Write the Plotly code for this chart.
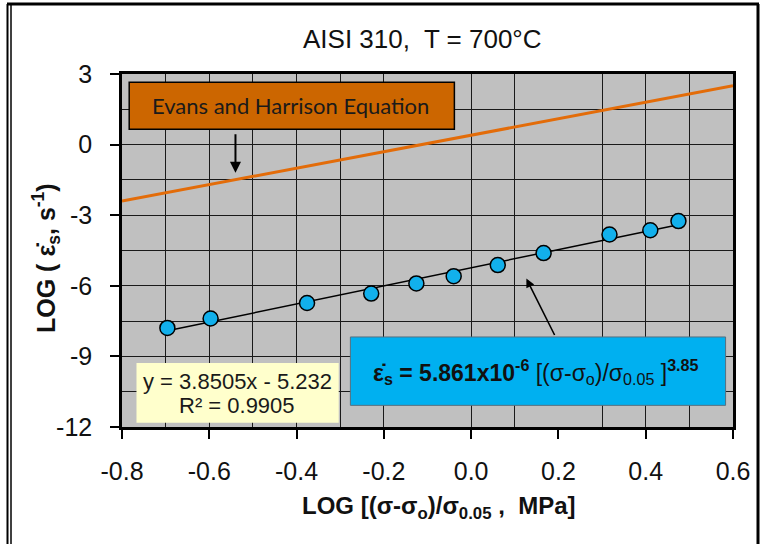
import plotly.graph_objects as go

# ---- data ----
log_stress = [-0.696, -0.597, -0.376, -0.229, -0.1255, -0.04, 0.061, 0.166, 0.317, 0.4105, 0.475]
log_rate = [-7.79, -7.39, -6.73, -6.33, -5.90, -5.59, -5.12, -4.61, -3.82, -3.64, -3.25]
fit_slope = 3.8505
fit_intercept = -5.232
fit_r2 = 0.9905
evans_x = [-0.8, 0.6]
evans_y = [-2.40, 2.50]
x_ticks = [-0.8, -0.6, -0.4, -0.2, 0.0, 0.2, 0.4, 0.6]
x_tick_text = ["-0.8", "-0.6", "-0.4", "-0.2", "0.0", "0.2", "0.4", "0.6"]
x_grid = [-0.7, -0.6, -0.5, -0.4, -0.3, -0.2, 0.0, 0.1, 0.3, 0.4, 0.5]
y_ticks = [3, 0, -3, -6, -9, -12]
y_tick_text = ["3", "0", "-3", "-6", "-9", "-12"]

# ---- layout geometry (pixels) ----
W, H = 768, 544
L, R, T, B = 122, 35, 74, 117
PW, PH = W - L - R, H - T - B


def px(xp):
    return (xp - L) / PW


def py(yp):
    return (H - B - yp) / PH


fit_x = [min(log_stress), max(log_stress)]
fit_y = [fit_slope * v + fit_intercept for v in fit_x]

fig = go.Figure()
fig.add_trace(go.Scatter(x=evans_x, y=evans_y, mode="lines",
                         line=dict(color="#E36C09", width=3), showlegend=False))
fig.add_trace(go.Scatter(x=fit_x, y=fit_y, mode="lines",
                         line=dict(color="black", width=1.5), showlegend=False))
fig.add_trace(go.Scatter(x=log_stress, y=log_rate, mode="markers",
                         marker=dict(size=15, color="#12B0EC",
                                     line=dict(color="black", width=1.5)),
                         showlegend=False))

tick_font = dict(family="Arial, Liberation Sans", size=25, color="#111")

fig.update_xaxes(range=[-0.8, 0.6], tickmode="array", tickvals=x_ticks, ticktext=x_tick_text,
                 showgrid=False, zeroline=False, ticks="outside", ticklen=9, tickwidth=1.5,
                 tickcolor="black", tickfont=tick_font, ticklabelstandoff=11,
                 showline=True, linecolor="black", linewidth=2.5, mirror=True,
                 minor=dict(tickmode="array", tickvals=x_grid, showgrid=True,
                            gridcolor="#1a1a1a", gridwidth=1.3, ticks=""))
fig.update_yaxes(range=[-12, 3], tickmode="array", tickvals=y_ticks, ticktext=y_tick_text,
                 showgrid=True, gridcolor="#1a1a1a", gridwidth=1.3, zeroline=False,
                 ticks="outside", ticklen=9, tickwidth=1.5, tickcolor="black",
                 tickfont=tick_font, ticklabelstandoff=13,
                 showline=True, linecolor="black", linewidth=2.5, mirror=True,
                 minor=dict(dtick=1.5, tick0=0, showgrid=True,
                            gridcolor="#1a1a1a", gridwidth=1.3, ticks=""))

shapes = []
# Evans box
shapes.append(dict(type="rect", xref="x", yref="y", x0=-0.7835, x1=-0.0384, y0=0.648, y1=2.647,
                   fillcolor="#CC6600", line=dict(color="black", width=1.5), layer="above"))
# blue equation box
shapes.append(dict(type="rect", xref="x", yref="y", x0=-0.2767, x1=0.583, y0=-11.08, y1=-8.174,
                   fillcolor="#00B0F0", line=dict(color="#557080", width=1), layer="above"))
# yellow fit box
shapes.append(dict(type="rect", xref="x", yref="y", x0=-0.7668, x1=-0.3034, y0=-11.815, y1=-9.28,
                   fillcolor="#FFFFCC", line=dict(width=0), layer="above"))
# outer frame
shapes.append(dict(type="line", xref="paper", yref="paper", x0=px(7.5), x1=px(7.5), y0=py(4), y1=py(H),
                   line=dict(color="black", width=2)))
shapes.append(dict(type="line", xref="paper", yref="paper", x0=px(11), x1=px(11), y0=py(4), y1=py(H),
                   line=dict(color="black", width=1.5)))
shapes.append(dict(type="line", xref="paper", yref="paper", x0=px(7), x1=px(759), y0=py(4), y1=py(4),
                   line=dict(color="black", width=3)))
shapes.append(dict(type="line", xref="paper", yref="paper", x0=px(758), x1=px(758), y0=py(4), y1=py(H),
                   line=dict(color="black", width=3)))

annotations = [
    dict(text="AISI 310,  T = 700°C", xref="paper", yref="paper", x=px(422.5), y=py(39),
         showarrow=False, xanchor="center", yanchor="middle",
         font=dict(family="Arial, Liberation Sans", size=26, color="#111")),
    dict(text="<b>LOG [(σ-σ<sub>o</sub>)/σ<sub>0.05</sub> ,  MPa]</b>", xref="paper", yref="paper",
         x=px(438.5), y=py(507), showarrow=False, xanchor="center", yanchor="middle",
         font=dict(family="Arial, Liberation Sans", size=24, color="#111")),
    dict(text="<b>LOG ( ε̇<sub>s</sub>, s<sup>-1</sup>)</b>", xref="paper", yref="paper",
         x=px(46), y=py(258), showarrow=False, textangle=-90, xanchor="center", yanchor="middle",
         font=dict(family="Arial, Liberation Sans", size=25, color="#111")),
    dict(text="Evans and Harrison Equation", xref="x", yref="y", x=-0.414, y=1.647,
         showarrow=False, xanchor="center", yanchor="middle",
         font=dict(family="Lato, Open Sans", size=22, color="#1a1a1a")),
    dict(text="", xref="x", yref="y", x=-0.54, y=-1.2, ax=0, ay=-40, axref="pixel", ayref="pixel",
         showarrow=True, arrowhead=2, arrowsize=1.1, arrowwidth=2, arrowcolor="black"),
    dict(text="", xref="x", yref="y", x=0.1265, y=-5.69, ax=29, ay=58,
         showarrow=True, arrowhead=2, arrowsize=1.1, arrowwidth=1.6, arrowcolor="black"),
    dict(text=f"y = {fit_slope}x - {abs(fit_intercept)}", xref="x", yref="y", x=-0.5355, y=-10.06,
         showarrow=False, xanchor="center", yanchor="middle",
         font=dict(family="Arial, Liberation Sans", size=22, color="#1a1a1a")),
    dict(text=f"R² = {fit_r2}", xref="x", yref="y", x=-0.5355, y=-11.08,
         showarrow=False, xanchor="center", yanchor="middle",
         font=dict(family="Arial, Liberation Sans", size=22, color="#1a1a1a")),
    dict(text="<b>ε̇<sub>s</sub> = 5.861x10<sup>-6</sup></b> [(σ-σ<sub>o</sub>)/σ<sub>0.05</sub> ]<sup><b>3.85</b></sup>",
         xref="x", yref="y", x=0.149, y=-9.65, showarrow=False, xanchor="center", yanchor="middle",
         font=dict(family="Arial, Liberation Sans", size=23, color="#111")),
]

fig.update_layout(width=W, height=H, margin=dict(l=L, r=R, t=T, b=B, pad=0),
                  paper_bgcolor="white", plot_bgcolor="#C0C0C0",
                  shapes=shapes, annotations=annotations, showlegend=False)

fig.write_html("out.html")
